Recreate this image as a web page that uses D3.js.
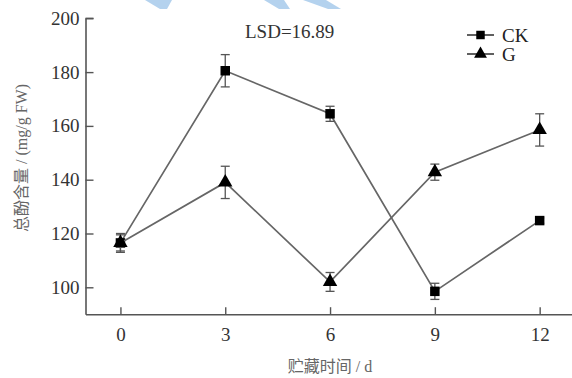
<!DOCTYPE html>
<html>
<head>
<meta charset="utf-8">
<script src="https://cdn.jsdelivr.net/npm/d3@7/dist/d3.min.js"></script>
<style>
  html, body { margin: 0; padding: 0; background: #fff; }
  svg { display: block; }
</style>
</head>
<body>
<svg id="chart" width="572" height="378"></svg>
<script>
// Storage days
const days = [0, 3, 6, 9, 12];
// Total phenol content (mg/g FW)
const ckValues = [116.5, 180.5, 164.5, 98.5, 124.8];
const ckErrors = [3.5, 6, 2.8, 3, 1];
const gValues = [116.5, 139, 102, 142.8, 158.5];
const gErrors = [3, 6, 3.5, 3, 6];
const yTicks = [100, 120, 140, 160, 180, 200];
const seriesNames = ["CK", "G"];
const lsdText = "LSD=16.89";

const svg = d3.select("#chart");
const serif = "'Liberation Serif', 'DejaVu Serif', serif";
const mixed = "'Liberation Serif', 'Noto Sans CJK SC', serif";

const x = d3.scaleLinear().domain([-1, 13]).range([85.5, 574.6]);
const y = d3.scaleLinear().domain([90, 200]).range([314.2, 18.3]);

// light blue strokes at the top edge
const bgShapes = [
  [[145, 0], [172, 0], [167, 9], [160, 9]],
  [[264, 0], [284, 0], [290, 9], [279, 9]],
  [[303, 0], [326, 0], [341, 9], [328, 9]]
];
svg.append("g").selectAll("polygon").data(bgShapes).join("polygon")
  .attr("points", d => d.map(p => p.join(",")).join(" "))
  .attr("fill", "#b4d2ee");

const axisColor = "#555";

// y axis, ticks pointing inward
const yAxis = svg.append("g")
  .attr("transform", `translate(${x(-1)},0)`)
  .call(d3.axisLeft(y).tickValues(yTicks).tickSizeInner(-8).tickSizeOuter(0).tickPadding(6));
// x axis, ticks pointing inward
const xAxis = svg.append("g")
  .attr("transform", `translate(0,${y(90)})`)
  .call(d3.axisBottom(x).tickValues(days).tickSizeInner(-7).tickSizeOuter(0).tickPadding(13));

[yAxis, xAxis].forEach(g => {
  g.select(".domain").attr("stroke", axisColor).attr("stroke-width", 1.6);
  g.selectAll(".tick line").attr("stroke", axisColor).attr("stroke-width", 1.4);
  g.selectAll(".tick text").attr("font-family", serif).attr("font-size", 19).attr("fill", "#333");
});
// top cap of y axis
svg.append("line")
  .attr("x1", x(-1)).attr("x2", x(-1) + 8)
  .attr("y1", y(200)).attr("y2", y(200))
  .attr("stroke", axisColor).attr("stroke-width", 1.4);

const lineColor = "#666";
const series = [
  { name: seriesNames[0], values: ckValues, errors: ckErrors, shape: d3.symbolSquare, size: 90 },
  { name: seriesNames[1], values: gValues, errors: gErrors, shape: d3.symbolTriangle, size: 90 }
];

const line = d3.line().x(d => x(d.day)).y(d => y(d.v));

series.forEach(s => {
  const pts = days.map((day, i) => ({ day, v: s.values[i], e: s.errors[i] }));
  const g = svg.append("g");
  g.append("path").datum(pts)
    .attr("d", line)
    .attr("fill", "none")
    .attr("stroke", lineColor)
    .attr("stroke-width", 1.7);
  // error bars
  const eb = g.selectAll(".eb").data(pts).join("g").attr("stroke", axisColor).attr("stroke-width", 1.3);
  eb.append("line")
    .attr("x1", d => x(d.day)).attr("x2", d => x(d.day))
    .attr("y1", d => y(d.v - d.e)).attr("y2", d => y(d.v + d.e));
  eb.append("line")
    .attr("x1", d => x(d.day) - 4.5).attr("x2", d => x(d.day) + 4.5)
    .attr("y1", d => y(d.v + d.e)).attr("y2", d => y(d.v + d.e));
  eb.append("line")
    .attr("x1", d => x(d.day) - 4.5).attr("x2", d => x(d.day) + 4.5)
    .attr("y1", d => y(d.v - d.e)).attr("y2", d => y(d.v - d.e));
  // markers
  g.selectAll(".m").data(pts).join("path")
    .attr("d", d3.symbol().type(s.shape).size(s.size))
    .attr("transform", d => `translate(${x(d.day)},${y(d.v)})`)
    .attr("fill", "#000");
});

// legend
const legend = svg.append("g");
series.forEach((s, i) => {
  const ly = 35 + i * 19;
  legend.append("line")
    .attr("x1", 467).attr("x2", 494).attr("y1", ly).attr("y2", ly)
    .attr("stroke", "#444").attr("stroke-width", 1.7);
  legend.append("path")
    .attr("d", d3.symbol().type(s.shape).size(s.size * 0.8))
    .attr("transform", `translate(480.5,${ly})`)
    .attr("fill", "#000");
  legend.append("text")
    .attr("x", 502).attr("y", ly + 7)
    .attr("font-family", serif).attr("font-size", 19).attr("fill", "#222")
    .text(s.name);
});

// LSD annotation
svg.append("text")
  .attr("x", 245).attr("y", 38)
  .attr("font-family", serif).attr("font-size", 19).attr("fill", "#333")
  .text(lsdText);

// axis titles
svg.append("text")
  .attr("transform", "translate(27,158) rotate(-90)")
  .attr("text-anchor", "middle")
  .attr("font-family", mixed).attr("font-size", 16).attr("fill", "#666")
  .text("总酚含量 / (mg/g FW)");
svg.append("text")
  .attr("x", 330).attr("y", 372)
  .attr("text-anchor", "middle")
  .attr("font-family", mixed).attr("font-size", 16).attr("fill", "#666")
  .text("贮藏时间 / d");
</script>
</body>
</html>
